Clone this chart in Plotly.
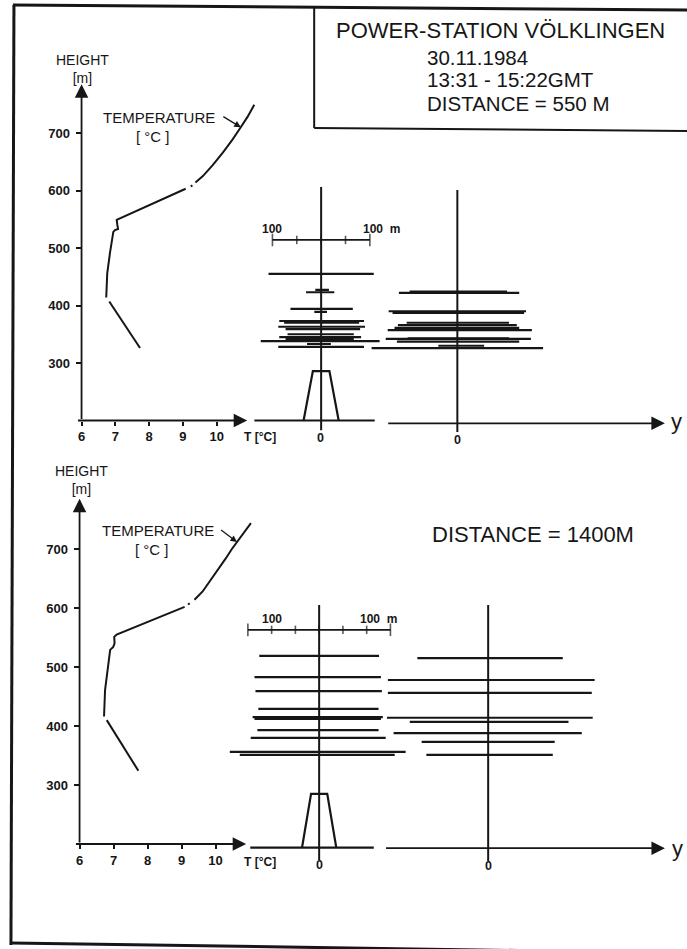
import plotly.graph_objects as go

W, H = 687, 949

# ---------------- temperature profiles (T in °C, height in m) ----------------
# None separates the pen-lifted pieces of each sounding curve
temp550_T = [11.11, 10.91, 10.71, 10.47, 10.18, 9.88, 9.59, 9.37, None, 9.28, 9.23, None,
             9.08, 8.12, 7.14, 7.04, 7.06, 7.08, 6.99, 6.94, 6.84, 6.76, 6.73, None, 6.82, 7.73]
temp550_H = [749, 728, 710, 689, 666, 644, 625, 614, None, 609, 607, None,
             603, 578, 552, 549, 540, 533, 531, 528, 491, 456, 414, None, 407, 326]

temp1400_T = [11.04, 10.85, 10.66, 10.48, 10.30, 10.12, 9.94, 9.78, 9.62, 9.38, None, 9.24, 9.19,
              None, 9.09, 8.10, 7.09, 7.02, 7.03, 6.99, 6.90, 6.75, 6.72, None, 6.80, 7.73]
temp1400_H = [744, 729, 715, 700, 684, 669, 653, 641, 628, 614, None, 608, 606,
              None, 602, 579, 555, 551, 540, 534, 529, 461, 416, None, 410, 324]

T_TICKS = [6, 7, 8, 9, 10]
H_TICKS = [300, 400, 500, 600, 700]

# ---------------- plume cross-sections: height (m) and lateral extent (m) ----------------
p550_left_h = [455, 427, 423, 394, 389, 373, 370, 363, 359, 350, 345, 342, 338, 333, 328]
p550_left_l = [-108, -12, -31, -63, -14, -86, -76, -88, -73, -69, -86, -73, -124, -29, -88]
p550_left_r = [108, 16, 27, 65, 12, 88, 78, 90, 80, 67, 82, 67, 120, 20, 88]

p550_right_h = [424, 422, 390, 387, 370, 366, 361, 357, 343, 342, 337, 330, 326]
p550_right_l = [-98, -120, -141, -133, -104, -122, -129, -143, -102, -147, -124, -39, -176]
p550_right_r = [102, 127, 141, 137, 106, 122, 127, 153, 106, 151, 127, 55, 176]

p1400_left_h = [519, 483, 459, 429, 415, 412, 393, 380, 356, 351]
p1400_left_l = [-126, -136, -134, -128, -140, -136, -130, -144, -188, -167]
p1400_left_r = [126, 130, 132, 125, 134, 130, 125, 140, 182, 159]

p1400_right_h = [515, 478, 456, 414, 407, 388, 373, 351]
p1400_right_l = [-149, -211, -211, -213, -165, -199, -140, -130]
p1400_right_r = [157, 224, 218, 220, 169, 197, 140, 136]

# chimney outline (lateral m) and heights per panel
stack_x = [-36, -17, 17, 36]
stack550_h = [200, 286, 286, 200]
stack1400_h = [194, 285, 285, 194]

# distance scale bars (m)
scale550_ticks = [-100, -50, 0, 50, 100]
scale1400_ticks = [-150, -100, -50, 0, 50, 100, 150]
scale550_h = 514
scale1400_h = 563

INK = "#161616"
FONT = "Liberation Sans, Arial, sans-serif"


def fx(p):
    return p / W


def fy(p):
    return 1 - p / H


def hsegs(h, l, r):
    xs, ys = [], []
    for hh, a, b in zip(h, l, r):
        xs += [a, b, None]
        ys += [hh, hh, None]
    return xs, ys


fig = go.Figure()


def line(xs, ys, xa, ya, width=2.0):
    fig.add_trace(go.Scatter(x=xs, y=ys, xaxis=xa, yaxis=ya, mode="lines",
                             line=dict(color=INK, width=width), hoverinfo="skip",
                             showlegend=False))


# ---- panel geometry (pixel placement of each axis) ----
panels = [
    # top: 550 m
    dict(y300=363, sy=0.575, t6=78, st=34.0, cl=319, cr=456, sm=0.49,
         xt="x", yt="y", xl="x2", xr="x3", yp="y3",
         temp=(temp550_T, temp550_H),
         left=(p550_left_h, p550_left_l, p550_left_r),
         right=(p550_right_h, p550_right_l, p550_right_r),
         stack=stack550_h, ground_l=200, ground_r=195,
         lrange=[-150, 150], rrange=[-200, 470],
         vline_l=[183, 606], vline_r=[180, 601],
         gl=[-137, 110], gr=[-145, 426],
         scale=(scale550_ticks, scale550_h), arrow_tail=(10.15, 730), arrow_head=(10.71, 710)),
    # bottom: 1400 m
    dict(y300=785, sy=0.59, t6=76, st=34.2, cl=317, cr=487, sm=0.478,
         xt="x4", yt="y2", xl="x5", xr="x6", yp="y4",
         temp=(temp1400_T, temp1400_H),
         left=(p1400_left_h, p1400_left_l, p1400_left_r),
         right=(p1400_right_h, p1400_right_l, p1400_right_r),
         stack=stack1400_h, ground_l=194, ground_r=193,
         lrange=[-200, 200], rrange=[-230, 415],
         vline_l=[173, 605], vline_r=[171, 605],
         gl=[-145, 115], gr=[-218, 372],
         scale=(scale1400_ticks, scale1400_h), arrow_tail=(10.12, 734), arrow_head=(10.63, 712)),
]

layout_axes = {}
annotations = []


def axname(a):
    return "xaxis" + a[1:] if a.startswith("x") else "yaxis" + a[1:]


for P in panels:
    py = lambda h, P=P: P["y300"] - (h - 300) * P["sy"]
    tick_font = dict(family=FONT, size=13, color=INK, weight="bold")

    # temperature axes
    layout_axes[axname(P["xt"])] = dict(
        domain=[fx(P["t6"]), fx(P["t6"] + 5.6 * P["st"])], range=[6, 11.6],
        anchor=P["yt"], tickvals=T_TICKS, ticks="outside", ticklen=4, tickwidth=1.5,
        tickcolor=INK, showline=False, showgrid=False, zeroline=False, tickfont=tick_font)
    layout_axes[axname(P["yt"])] = dict(
        domain=[fy(py(200)), fy(py(790))], range=[200, 790],
        anchor=P["xt"], tickvals=H_TICKS, ticks="outside", ticklen=5, tickwidth=1.5,
        tickcolor=INK, showline=False, showgrid=False, zeroline=False, tickfont=tick_font,
        ticklabelstandoff=3)
    # plume axes (same vertical scale, extended below ground)
    layout_axes[axname(P["yp"])] = dict(
        domain=[fy(py(170)), fy(py(790))], range=[170, 790], anchor=P["xl"], visible=False)
    for xa, c, rng in ((P["xl"], P["cl"], P["lrange"]), (P["xr"], P["cr"], P["rrange"])):
        layout_axes[axname(xa)] = dict(
            domain=[fx(c + rng[0] * P["sm"]), fx(c + rng[1] * P["sm"])], range=rng,
            anchor=P["yp"], visible=False)

    # temperature curve
    line(P["temp"][0], P["temp"][1], P["xt"], P["yt"], 2.0)

    # plume slices
    xs, ys = hsegs(*P["left"])
    line(xs, ys, P["xl"], P["yp"], 2.2)
    xs, ys = hsegs(*P["right"])
    line(xs, ys, P["xr"], P["yp"], 2.2)

    # chimney, centre lines, ground
    line(stack_x, P["stack"], P["xl"], P["yp"], 2.2)
    line([0, 0], P["vline_l"], P["xl"], P["yp"], 2.0)
    line([0, 0], P["vline_r"], P["xr"], P["yp"], 2.0)
    line(P["gl"], [P["ground_l"]] * 2, P["xl"], P["yp"], 2.2)

    # scale bar
    ticks, hb = P["scale"]
    fig.add_trace(go.Scatter(
        x=ticks, y=[hb] * len(ticks), xaxis=P["xl"], yaxis=P["yp"], mode="lines+markers",
        line=dict(color=INK, width=1.8),
        marker=dict(symbol="line-ns", size=[9 if abs(t) == max(ticks) else 6 for t in ticks],
                    line=dict(color=INK, width=1.6)),
        hoverinfo="skip", showlegend=False))
    lab_h = hb + 11 / P["sy"]
    annotations += [
        dict(x=-100, y=lab_h, xref=P["xl"], yref=P["yp"], text="100", showarrow=False,
             font=dict(family=FONT, size=12, color=INK, weight="bold")),
        dict(x=100 - 9 / P["sm"], y=lab_h, xref=P["xl"], yref=P["yp"], text="100  m",
             xanchor="left", showarrow=False,
             font=dict(family=FONT, size=12, color=INK, weight="bold")),
    ]

    # axis arrows
    arr = dict(showarrow=True, text="", arrowhead=2, arrowsize=1.5, arrowwidth=1.8,
               arrowcolor=INK, standoff=0)
    annotations += [
        dict(x=6, y=785, ax=6, ay=200, xref=P["xt"], yref=P["yt"],
             axref=P["xt"], ayref=P["yt"], **arr),
        dict(x=10.9, y=200, ax=5.85, ay=200, xref=P["xt"], yref=P["yt"],
             axref=P["xt"], ayref=P["yt"], **arr),
        dict(x=P["gr"][1], y=P["ground_r"], ax=P["gr"][0], ay=P["ground_r"],
             xref=P["xr"], yref=P["yp"], axref=P["xr"], ayref=P["yp"], **arr),
        dict(x=P["arrow_head"][0], y=P["arrow_head"][1], ax=P["arrow_tail"][0],
             ay=P["arrow_tail"][1], xref=P["xt"], yref=P["yt"], axref=P["xt"], ayref=P["yt"],
             showarrow=True, text="", arrowhead=2, arrowsize=1.0, arrowwidth=1.3,
             arrowcolor=INK, standoff=0),
    ]


def label(x, y, text, size, bold=False, anchor="center"):
    annotations.append(dict(
        x=fx(x), y=fy(y), xref="paper", yref="paper", text=text, showarrow=False,
        xanchor=anchor, yanchor="middle",
        font=dict(family=FONT, size=size, color=INK, weight="bold" if bold else "normal")))


# title block
label(332, 30, "POWER-STATION VÖLKLINGEN", 22, anchor="left")
label(423, 57, "30.11.1984", 20.5, anchor="left")
label(423, 80, "13:31 - 15:22GMT", 20.5, anchor="left")
label(423, 103, "DISTANCE = 550 M", 20.5, anchor="left")
label(428, 534, "DISTANCE = 1400M", 22, anchor="left")

# axis titles and curve labels
for (hx, hy, tx, ty, zl, zr, tl, yl) in [
        (79, 69, 156, 117, (318, 438), (456, 440), (257, 437), (676, 421)),
        (78, 480, 155, 530, (317, 865), (487, 866), (257, 862), (677, 848))]:
    label(hx, hy, "HEIGHT<br>[m]", 14)
    label(tx, ty, "TEMPERATURE", 15)
    label(tx - 6, ty + 19, "[ °C ]", 15)
    label(zl[0], zl[1], "0", 12.5, bold=True)
    label(zr[0], zr[1], "0", 12.5, bold=True)
    label(tl[0], tl[1], "T [°C]", 12, bold=True)
    label(yl[0], yl[1], "y", 22)

# sheet border and title box
shapes = [
    dict(type="line", xref="paper", yref="paper", x0=fx(10), y0=fy(5), x1=fx(7), y1=fy(945),
         line=dict(color=INK, width=3)),
    dict(type="line", xref="paper", yref="paper", x0=fx(9), y0=fy(5), x1=fx(687), y1=fy(10),
         line=dict(color=INK, width=3)),
    dict(type="line", xref="paper", yref="paper", x0=fx(7), y0=fy(943), x1=fx(687), y1=fy(953),
         line=dict(color=INK, width=3)),
    dict(type="line", xref="paper", yref="paper", x0=fx(312), y0=fy(8), x1=fx(312), y1=fy(128),
         line=dict(color=INK, width=2)),
    dict(type="line", xref="paper", yref="paper", x0=fx(312), y0=fy(128), x1=fx(687), y1=fy(131),
         line=dict(color=INK, width=2)),
]

fig.update_layout(
    width=W, height=H, margin=dict(l=0, r=0, t=0, b=0),
    paper_bgcolor="white", plot_bgcolor="rgba(0,0,0,0)",
    showlegend=False, annotations=annotations, shapes=shapes,
    **layout_axes,
)

fig.write_html("out.html")
